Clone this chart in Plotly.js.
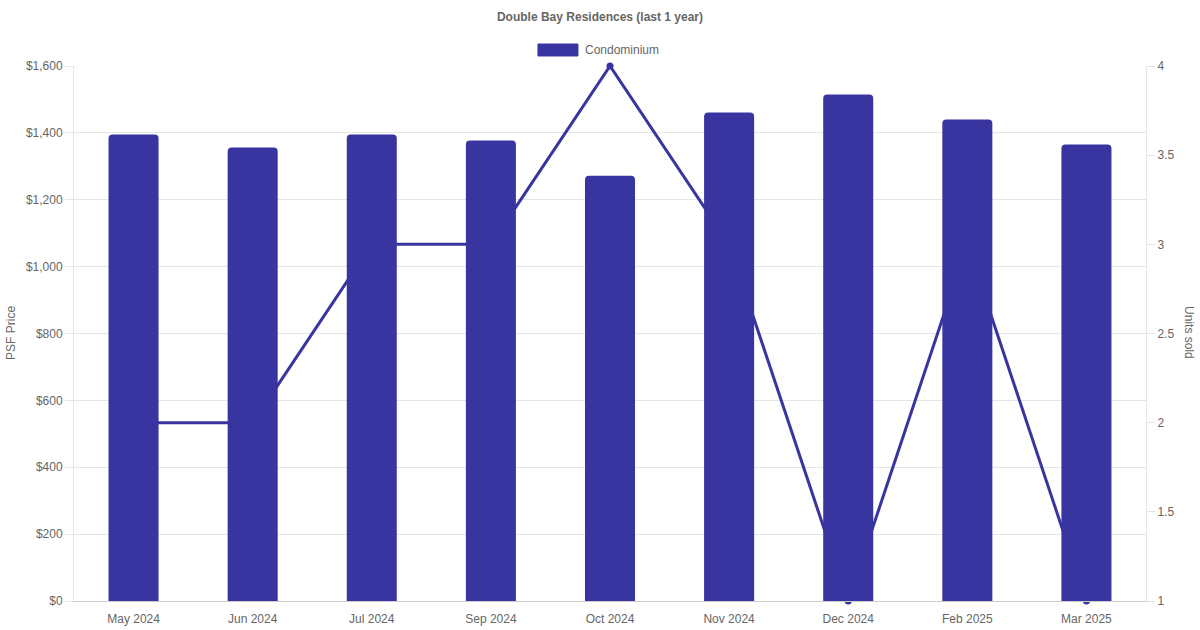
<!DOCTYPE html>
<html>
<head>
<meta charset="utf-8">
<script src="https://cdn.plot.ly/plotly-3.0.1.min.js"></script>
<style>html,body{margin:0;padding:0;background:#fff;}#chart{width:1200px;height:630px;}</style>
</head>
<body>
<div id="chart"></div>
<script>
const months = ['May 2024','Jun 2024','Jul 2024','Sep 2024','Oct 2024','Nov 2024','Dec 2024','Feb 2025','Mar 2025'];
const psfPrice = [1395, 1356, 1395, 1377, 1272, 1461, 1515, 1440, 1365];
const unitsSold = [2, 2, 3, 3, 4, 3, 1, 3, 1];
const priceTicks = [0, 200, 400, 600, 800, 1000, 1200, 1400, 1600];
const unitTicks = [1, 1.5, 2, 2.5, 3, 3.5, 4];

const color = '#3834a0';
const txt = '#666666';
const grid = '#e5e5e5';
const fontFam = 'Liberation Sans, Arial, sans-serif';

const traces = [
  {
    type: 'scatter', mode: 'lines+markers', name: 'Units sold',
    x: months, y: unitsSold, yaxis: 'y', xaxis: 'x',
    line: {color: color, width: 3},
    marker: {color: color, size: 7},
    cliponaxis: false, showlegend: false, hoverinfo: 'x+y'
  },
  {
    type: 'bar', name: 'Condominium',
    x: months, y: psfPrice, yaxis: 'y2', xaxis: 'x',
    marker: {color: color, line: {width: 0}},
    width: 0.42, showlegend: false
  }
];

const layout = {
  width: 1200, height: 630,
  margin: {l: 74, r: 54, t: 66, b: 29},
  paper_bgcolor: '#fff', plot_bgcolor: '#fff',
  font: {family: fontFam, size: 12, color: txt},
  showlegend: false,
  barcornerradius: 4,
  title: {
    text: '<b>Double Bay Residences (last 1 year)</b>',
    font: {family: fontFam, size: 12, color: txt},
    x: 0.5, xanchor: 'center', xref: 'container', y: 0.973, yanchor: 'middle', yref: 'container'
  },
  xaxis: {
    type: 'category', showgrid: false, zeroline: false,
    showline: true, linecolor: '#cccccc', linewidth: 1,
    ticks: '', ticklabelstandoff: 7, tickfont: {size: 12, color: txt},
    range: [-0.5, months.length - 0.5]
  },
  yaxis: {
    side: 'right', range: [1, 4],
    tickvals: unitTicks, ticktext: unitTicks.map(String),
    showgrid: false, zeroline: false,
    showline: true, linecolor: grid, linewidth: 1,
    ticks: 'outside', ticklen: 8, tickcolor: grid,
    tickfont: {size: 12, color: txt}
  },
  yaxis2: {
    overlaying: 'y', side: 'left', range: [0, 1600],
    tickvals: priceTicks, ticktext: priceTicks.map(v => '$' + v.toLocaleString('en-US')),
    showgrid: true, gridcolor: grid, gridwidth: 1, zeroline: false,
    showline: true, linecolor: grid, linewidth: 1,
    ticks: 'outside', ticklen: 8, tickcolor: grid,
    tickfont: {size: 12, color: txt}
  },
  shapes: [
    {type: 'rect', xref: 'paper', yref: 'paper', x0: 0.4328, x1: 0.4701, y0: 1.0187, y1: 1.0411,
     fillcolor: color, line: {color: color, width: 1}}
  ],
  annotations: [
    {text: 'Condominium', xref: 'paper', yref: 'paper', x: 0.4748, y: 1.0299,
     xanchor: 'left', yanchor: 'middle', showarrow: false, font: {size: 12, color: txt}},
    {text: 'PSF Price', xref: 'paper', yref: 'paper', x: -0.0588, y: 0.501,
     xanchor: 'center', yanchor: 'middle', textangle: -90, showarrow: false, font: {size: 12, color: txt}},
    {text: 'Units sold', xref: 'paper', yref: 'paper', x: 1.040, y: 0.501,
     xanchor: 'center', yanchor: 'middle', textangle: 90, showarrow: false, font: {size: 12, color: txt}}
  ]
};

Plotly.newPlot('chart', traces, layout, {displayModeBar: false, staticPlot: true});
</script>
</body>
</html>
